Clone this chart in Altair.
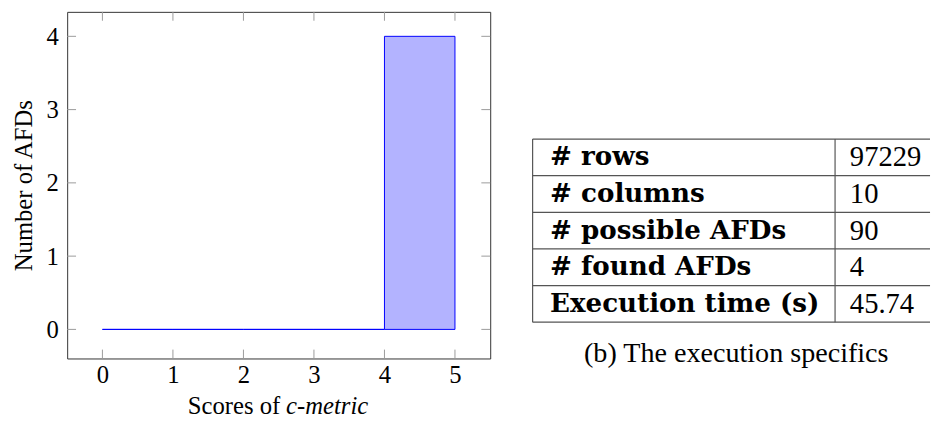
import altair as alt
import pandas as pd

# ---- data ----
bin_start = [0, 1, 2, 3, 4]
bin_end = [1, 2, 3, 4, 5]
afd_counts = [0, 0, 0, 0, 4]

x_ticks = [0, 1, 2, 3, 4, 5]
y_ticks = [0, 1, 2, 3, 4]

table_labels = ["# rows", "# columns", "# possible AFDs", "# found AFDs", "Execution time (s)"]
table_values = ["97229", "10", "90", "4", "45.74"]

x_title_plain = "Scores of"
x_title_italic = "c-metric"
y_title = "Number of AFDs"
caption = "(b) The execution specifics"

# ---- layout constants ----
W, H = 429, 351.5
TW = 403
TBL_TOP, TBL_BOT = 129, 314.7
SERIF = "Liberation Serif"
TICK_C = "#9a9a9a"
TICK_L = 9

hist = pd.DataFrame({"start": bin_start, "end": bin_end, "count": afd_counts})
xs = alt.Scale(domain=[-0.5, 5.5], nice=False, zero=False)
ys = alt.Scale(domain=[-0.397, 4.334], nice=False, zero=False)

ax_x = alt.Axis(values=x_ticks, title=None, ticks=False, tickSize=0, domain=False, grid=False,
                labelFont=SERIF, labelFontSize=25, labelColor="black", labelPadding=4, format="d")
ax_y = alt.Axis(values=y_ticks, title=y_title, ticks=False, tickSize=0, domain=False, grid=False,
                labelFont=SERIF, labelFontSize=25, labelColor="black", labelPadding=9, format="d",
                titleFont=SERIF, titleFontSize=25, titleFontWeight="normal", titleColor="black",
                titlePadding=10)

bars = alt.Chart(hist).mark_rect(fill="#b3b3ff", stroke="#0000ff", strokeWidth=1).encode(
    x=alt.X("start:Q", scale=xs, axis=ax_x, title=None),
    x2="end:Q",
    y=alt.Y("count:Q", scale=ys, axis=ax_y, title=y_title),
    y2=alt.datum(0),
)

xt = pd.DataFrame({"v": x_ticks})
yt = pd.DataFrame({"v": y_ticks})
bottom_ticks = alt.Chart(xt).mark_rule(color=TICK_C, strokeWidth=1).encode(
    x=alt.X("v:Q", scale=xs, axis=ax_x, title=None), y=alt.value(H), y2=alt.value(H - TICK_L))
top_ticks = alt.Chart(xt).mark_rule(color=TICK_C, strokeWidth=1).encode(
    x=alt.X("v:Q", scale=xs, axis=ax_x, title=None), y=alt.value(0), y2=alt.value(TICK_L))
left_ticks = alt.Chart(yt).mark_rule(color=TICK_C, strokeWidth=1).encode(
    y=alt.Y("v:Q", scale=ys, axis=ax_y, title=y_title), x=alt.value(0), x2=alt.value(TICK_L))
right_ticks = alt.Chart(yt).mark_rule(color=TICK_C, strokeWidth=1).encode(
    y=alt.Y("v:Q", scale=ys, axis=ax_y, title=y_title), x=alt.value(W), x2=alt.value(W - TICK_L))

title_plain = alt.Chart(pd.DataFrame({"t": [x_title_plain]})).mark_text(
    font=SERIF, fontSize=25, align="right", baseline="alphabetic", color="black").encode(
    text="t:N", x=alt.value(216), y=alt.value(408))
title_italic = alt.Chart(pd.DataFrame({"t": [x_title_italic]})).mark_text(
    font=SERIF, fontSize=25, fontStyle="italic", align="left", baseline="alphabetic", color="black").encode(
    text="t:N", x=alt.value(222), y=alt.value(408))

left = alt.layer(bars, bottom_ticks, top_ticks, left_ticks, right_ticks, title_plain, title_italic).properties(
    width=W, height=H)

# ---- table ----
tbl = pd.DataFrame({"label": table_labels, "value": table_values})
rs = alt.Scale(domain=table_labels, range=[TBL_TOP, TBL_BOT], paddingInner=0, paddingOuter=0)

label_txt = alt.Chart(tbl).mark_text(
    font="DejaVu Serif", fontWeight="bold", fontSize=26.5, align="left", baseline="middle", color="black").encode(
    y=alt.Y("label:N", scale=rs, sort=table_labels, axis=None), x=alt.value(17.7), text="label:N")
value_txt = alt.Chart(tbl).mark_text(
    font=SERIF, fontSize=29, align="left", baseline="middle", color="black").encode(
    y=alt.Y("label:N", scale=rs, sort=table_labels, axis=None), x=alt.value(321.7), text="value:N")

LINE_C = "#555555"
hlines = alt.Chart(tbl).mark_rule(color=LINE_C, strokeWidth=1.2).encode(
    y=alt.Y("label:N", scale=rs, sort=table_labels, axis=None, bandPosition=0),
    x=alt.value(0), x2=alt.value(TW))
hline_bottom = alt.Chart(tbl.tail(1)).mark_rule(color=LINE_C, strokeWidth=1.2).encode(
    y=alt.Y("label:N", scale=rs, sort=table_labels, axis=None, bandPosition=1),
    x=alt.value(0), x2=alt.value(TW))
one = pd.DataFrame({"k": [0]})
vline_left = alt.Chart(one).mark_rule(color=LINE_C, strokeWidth=1.2).encode(
    x=alt.value(0), y=alt.value(TBL_TOP), y2=alt.value(TBL_BOT))
vline_mid = alt.Chart(one).mark_rule(color=LINE_C, strokeWidth=1.2).encode(
    x=alt.value(306.7), y=alt.value(TBL_TOP), y2=alt.value(TBL_BOT))
cap = alt.Chart(pd.DataFrame({"t": [caption]})).mark_text(
    font=SERIF, fontSize=28.5, align="center", baseline="middle", color="black").encode(
    text="t:N", x=alt.value(TW / 2 + 5), y=alt.value(346))

right = alt.layer(hlines, hline_bottom, vline_left, vline_mid, label_txt, value_txt, cap).properties(
    width=TW, height=H, view=alt.ViewBackground(stroke="transparent"))

chart = alt.hconcat(left, right, spacing=40).properties(
    padding={"left": 3, "top": 0, "right": 0, "bottom": 0}, background="white"
).configure_view(stroke="#333333", strokeWidth=1)

chart.save("out.html", embed_options={"renderer": "svg", "actions": False})
